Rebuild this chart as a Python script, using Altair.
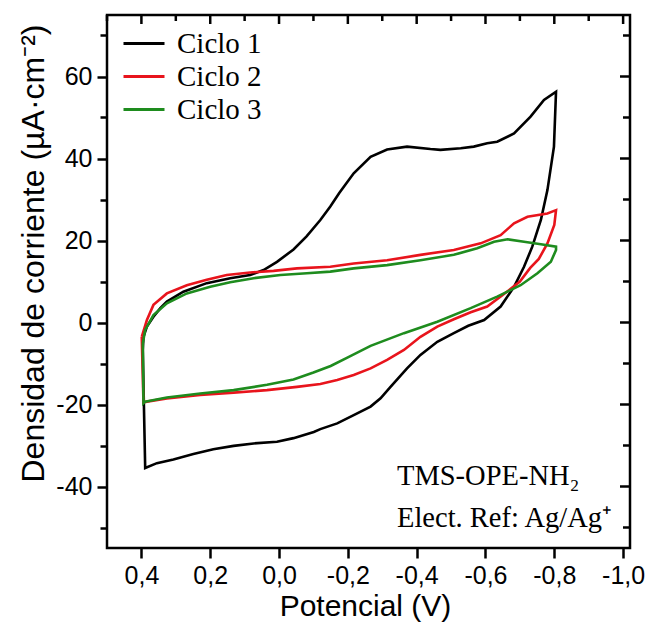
import altair as alt
import pandas as pd

# ---- data (Potencial in V, densidad de corriente in µA·cm-2)
c1_v = [0.396, 0.394, 0.384, 0.365, 0.345, 0.326, 0.278, 0.21, 0.142, 0.084, 0.045, 0.006,
        -0.042, -0.08, -0.12, -0.149, -0.175, -0.217, -0.266, -0.314, -0.372, -0.44, -0.469,
        -0.528, -0.566, -0.605, -0.634, -0.683, -0.731, -0.77, -0.805,
        -0.799, -0.78, -0.761, -0.736, -0.712, -0.683, -0.644, -0.596, -0.55, -0.508, -0.46,
        -0.411, -0.372, -0.324, -0.295, -0.266, -0.217, -0.169, -0.12, -0.101, -0.042, 0.006,
        0.074, 0.132, 0.191, 0.249, 0.307, 0.355, 0.389, 0.396]
c1_j = [-6.7, -3.5, -1.0, 1.4, 3.5, 5.1, 7.5, 9.6, 10.8, 11.6, 12.8, 14.8,
        17.8, 21.0, 25.0, 28.3, 31.6, 36.4, 40.4, 42.2, 42.9, 42.3, 42.1,
        42.5, 42.9, 43.7, 44.1, 46.1, 50.2, 54.3, 56.3,
        42.9, 32.3, 25.0, 18.5, 13.6, 8.7, 3.9, 0.6, -0.8, -2.6, -4.7,
        -7.9, -11.2, -15.7, -18.5, -20.5, -22.6, -24.6, -26.0, -26.7, -28.2, -29.1,
        -29.5, -30.1, -30.9, -32.1, -33.4, -34.3, -35.5, -6.7]

c2_v = [0.399, 0.384, 0.365, 0.326, 0.268, 0.21, 0.152, 0.084, 0.016, -0.052, -0.149,
        -0.217, -0.314, -0.411, -0.508, -0.586, -0.644, -0.683, -0.722, -0.78, -0.805,
        -0.8, -0.78, -0.755, -0.73, -0.70, -0.65, -0.605, -0.557, -0.508, -0.46, -0.411,
        -0.363, -0.314, -0.266, -0.217, -0.169, -0.12, -0.052, 0.035, 0.132, 0.229, 0.326,
        0.384, 0.394, 0.399]
c2_j = [-3.5, 0.6, 4.3, 7.1, 9.1, 10.4, 11.6, 12.2, 12.6, 13.2, 13.6,
        14.4, 15.2, 16.5, 17.7, 19.3, 21.3, 24.2, 25.8, 26.6, 27.4,
        23.8, 19.3, 15.5, 13.3, 10.0, 6.7, 3.9, 2.5, 0.8, -1.0, -3.5,
        -6.7, -9.1, -11.2, -12.8, -14.0, -15.0, -15.7, -16.5, -17.1, -17.7, -18.5,
        -19.3, -19.5, -3.5]

c3_v = [0.396, 0.389, 0.365, 0.326, 0.268, 0.2, 0.142, 0.074, -0.004, -0.081, -0.149,
        -0.217, -0.314, -0.411, -0.508, -0.576, -0.625, -0.664, -0.712, -0.761, -0.805,
        -0.805, -0.79, -0.751, -0.702, -0.634, -0.557, -0.46, -0.363, -0.266, -0.2, -0.15,
        -0.1, -0.042, 0.035, 0.132, 0.229, 0.326, 0.389, 0.394, 0.396]
c3_j = [-5.1, -1.8, 1.8, 4.7, 7.1, 8.7, 9.8, 10.8, 11.6, 12.0, 12.4,
        13.2, 14.0, 15.2, 16.5, 18.1, 19.7, 20.3, 19.7, 19.1, 18.5,
        17.7, 14.8, 12.0, 9.1, 6.3, 3.5, 0.2, -2.6, -5.7, -8.5, -10.6,
        -12.2, -13.9, -15.2, -16.5, -17.3, -18.3, -19.3, -19.7, -5.1]

series_names = ["Ciclo 1", "Ciclo 2", "Ciclo 3"]
series_colors = ["#000000", "#e8141c", "#1e8c1e"]

x_major = [0.4, 0.2, 0.0, -0.2, -0.4, -0.6, -0.8, -1.0]
x_minor = [0.5, 0.3, 0.1, -0.1, -0.3, -0.5, -0.7, -0.9]
y_major = [60, 40, 20, 0, -20, -40]
y_minor = [70, 50, 30, 10, -10, -30, -50]

note_lines = ["TMS-OPE-NH\u2082", "Elect. Ref: Ag/Ag\u207a"]

rows = []
for name, vs, js in zip(series_names, [c1_v, c2_v, c3_v], [c1_j, c2_j, c3_j]):
    for i, (v, j) in enumerate(zip(vs, js)):
        rows.append({"ciclo": name, "E": v, "J": j, "i": i})
df = pd.DataFrame(rows)

W, H = 523, 533
xscale = alt.Scale(domain=[-1.02, 0.5], reverse=True, nice=False, zero=False)
yscale = alt.Scale(domain=[-55, 75], nice=False, zero=False)

x_label_expr = ("abs(round(datum.value*10)) % 2 == 0 ? "
                "replace(replace(format(datum.value, '.1f'), '.', ','), '\u2212', '-') : ''")
x_axis = alt.Axis(
    values=x_major + x_minor, labelExpr=x_label_expr,
    tickSize={"condition": {"test": "abs(round(datum.value*10)) % 2 == 0", "value": 10}, "value": 7},
    labelPadding=5, labelFlush=False, labelOverlap=False, labelBound=False,
    title="Potencial (V)", titleFontSize=30, titleY=67, titleX=258, titleBaseline="alphabetic",
)
y_axis = alt.Axis(
    values=y_major + y_minor, labelExpr="datum.value % 20 == 0 ? '' + datum.value : ''",
    tickSize={"condition": {"test": "datum.value % 20 == 0", "value": 10}, "value": 7},
    labelPadding=5, labelOverlap=False, labelBound=False, labelFlush=False,
    title="Densidad de corriente (\u00b5A\u00b7cm\u207b\u00b2)", titleFontSize=32,
    titleAngle=270, titleX=-64, titleY=238, titleBaseline="alphabetic", titleAlign="center",
)

lines = alt.Chart(df).mark_line(strokeWidth=2.6).encode(
    x=alt.X("E:Q", scale=xscale, axis=x_axis),
    y=alt.Y("J:Q", scale=yscale, axis=y_axis),
    color=alt.Color(
        "ciclo:N",
        scale=alt.Scale(domain=series_names, range=series_colors),
        legend=alt.Legend(
            orient="none", legendX=15, legendY=12, title=None, symbolType="stroke",
            symbolSize=1681, symbolStrokeWidth=3, labelFont="Liberation Serif",
            labelFontSize=29, labelColor="black", clipHeight=33, rowPadding=0,
            padding=0, labelOffset=11, labelLimit=0,
        ),
    ),
    order="i:Q",
)

tick_style = dict(color="black", strokeWidth=2.5)
top_major = alt.Chart(pd.DataFrame({"E": x_major})).mark_rule(**tick_style).encode(
    x=alt.X("E:Q", scale=xscale), y=alt.value(0), y2=alt.value(9))
top_minor = alt.Chart(pd.DataFrame({"E": x_minor})).mark_rule(**tick_style).encode(
    x=alt.X("E:Q", scale=xscale), y=alt.value(0), y2=alt.value(6))
right_major = alt.Chart(pd.DataFrame({"J": y_major})).mark_rule(**tick_style).encode(
    y=alt.Y("J:Q", scale=yscale), x=alt.value(W), x2=alt.value(W - 10))
right_minor = alt.Chart(pd.DataFrame({"J": y_minor})).mark_rule(**tick_style).encode(
    y=alt.Y("J:Q", scale=yscale), x=alt.value(W), x2=alt.value(W - 7))

notes = alt.Chart(pd.DataFrame({"t": [0]})).mark_text(
    font="Liberation Serif", fontSize=28.5, align="left", baseline="alphabetic",
    color="black", lineHeight=42,
).encode(x=alt.value(290), y=alt.value(470), text=alt.value(note_lines))

chart = alt.layer(lines, top_major, top_minor, right_major, right_minor, notes).properties(
    width=W, height=H,
    background="white",
    autosize=alt.AutoSizeParams(type="none"),
    padding={"left": 107, "top": 15, "right": 19, "bottom": 80},
).configure_view(stroke="black", strokeWidth=2.5).configure_axis(
    domain=False, grid=False, tickColor="black", tickWidth=2.5,
    labelFont="Liberation Sans", labelFontSize=25, labelColor="black",
    titleFont="Liberation Sans", titleFontWeight="normal", titleColor="black",
)

chart.save("out.html", embed_options={"renderer": "svg", "actions": False})
